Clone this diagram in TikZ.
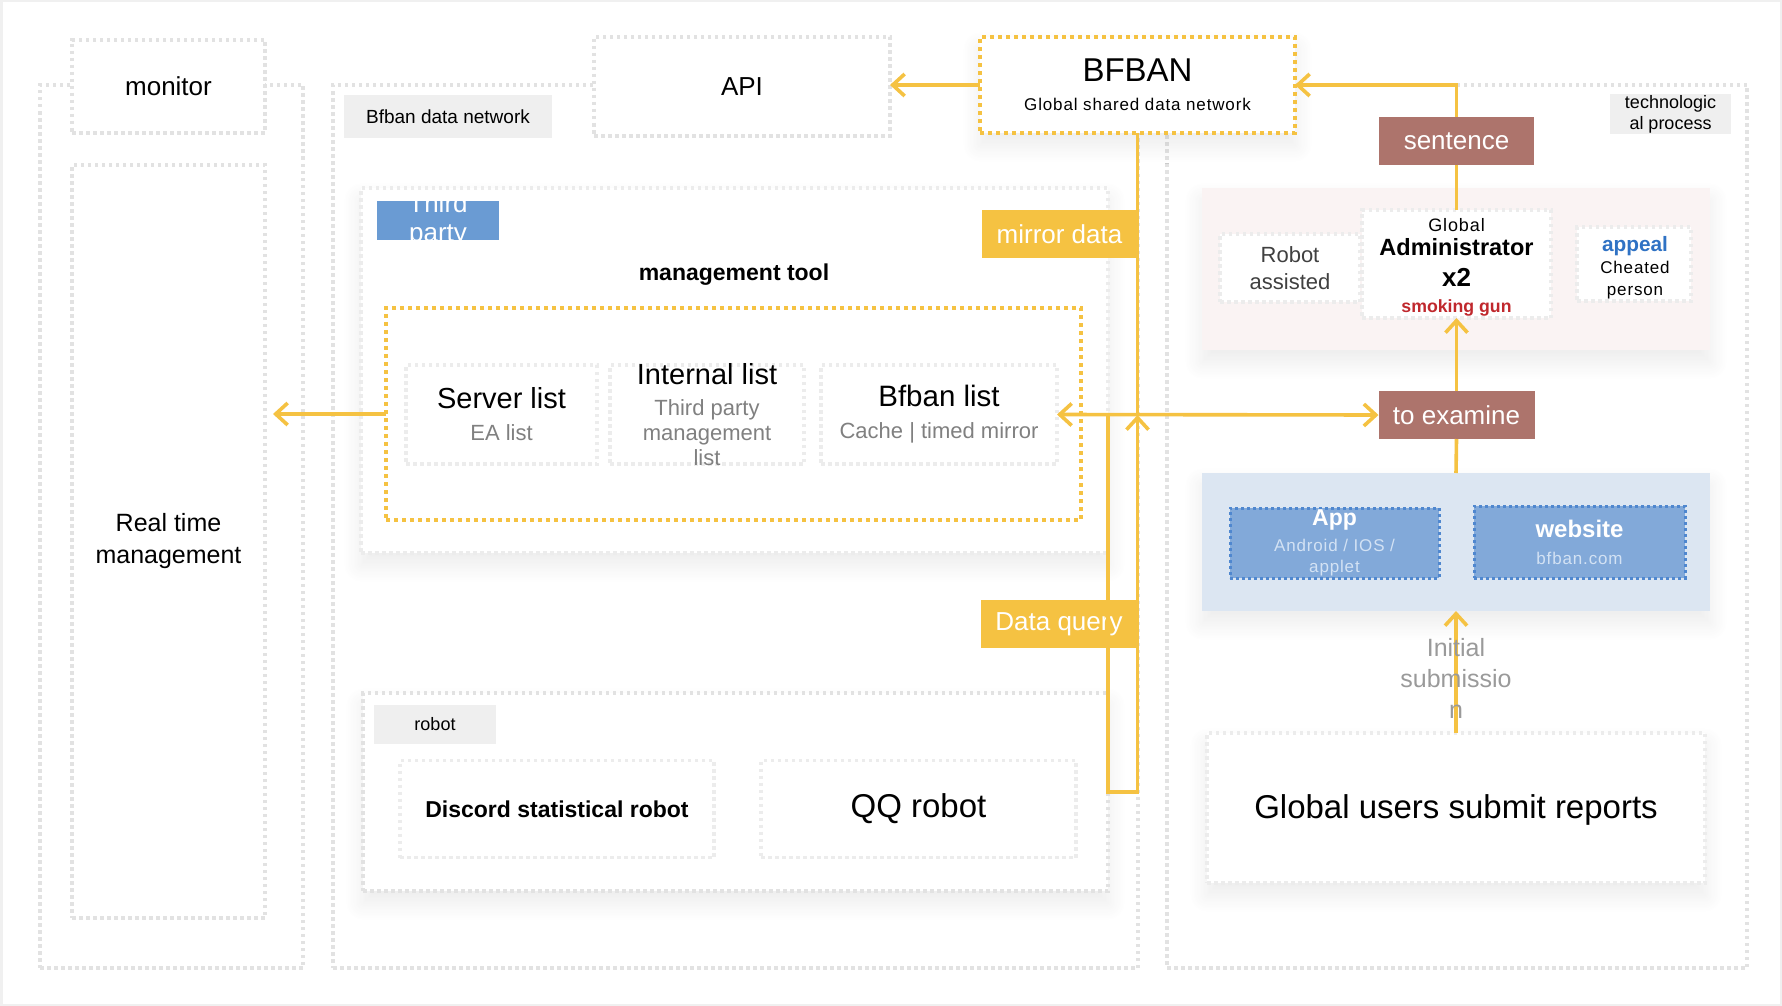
\documentclass[tikz,border=0pt]{standalone}
\usepackage{fontspec}
\setmainfont{Liberation Sans}
\usetikzlibrary{arrows.meta,positioning,shadows.blur}

\definecolor{gold}{HTML}{F5C242}
\definecolor{brick}{HTML}{AD746C}
\definecolor{dotgray}{HTML}{E2E2E2}
\definecolor{faintgray}{HTML}{ECECEC}
\definecolor{tagfill}{HTML}{EFEFEF}
\definecolor{subgray}{HTML}{808080}
\definecolor{paleblue}{HTML}{DCE6F2}
\definecolor{midblue}{HTML}{82A9D9}
\definecolor{edgeblue}{HTML}{4F87CF}
\definecolor{tagblue}{HTML}{6A9BD3}
\definecolor{palepink}{HTML}{FAF3F3}
\definecolor{gunred}{HTML}{C0282D}
\definecolor{appealblue}{HTML}{2F72C4}
\definecolor{lightink}{HTML}{D3E2F4}

\newcommand\fsz[2]{\fontsize{#1pt}{#2pt}\selectfont}
\newcommand\tracked{\addfontfeature{LetterSpace=5}}

\begin{document}
\begin{tikzpicture}[x=1pt,y=-1pt,
  every node/.style={inner sep=0pt,outer sep=0pt,align=center},
  box/.style={draw=dotgray,line width=3.5pt,dash pattern=on 3.5pt off 3.5pt},
  card/.style={box,draw=faintgray,fill=white},
  golden/.style={draw=gold,line width=4pt,dash pattern=on 4pt off 4pt,fill=white},
  tag/.style={fill=tagfill,font=\fsz{19}{22}},
  flag/.style={fill=gold,text=white,font=\fsz{26}{30}},
  verdict/.style={fill=brick,text=white,font=\fsz{26}{30}},
  client/.style={fill=midblue,draw=edgeblue,line width=3pt,dash pattern=on 3pt off 3pt,text=white},
  soft/.style={blur shadow={shadow xshift=0pt,shadow yshift=-12pt,shadow blur radius=18pt,shadow opacity=8,shadow blur steps=16}},
  wire/.style={draw=gold,line width=3.6pt},
  arrowwire/.style={wire,-{Straight Barb[length=12pt,width=22pt]}}]

\useasboundingbox (0,0) rectangle (1782,1006);
\node[draw=black!6,line width=5pt,minimum width=1782pt,minimum height=1006pt] (frame) at (891,503) {};

% three columns
\node[box,minimum width=263pt,minimum height=883pt] (leftcol) at (171.5,526.5) {};
\node[box,minimum width=805pt,minimum height=883pt] (midcol) at (735.5,526.5) {};
\node[box,minimum width=580pt,minimum height=883pt] (rightcol) at (1457,526.5) {};

\node[box,fill=white,minimum width=193pt,minimum height=93pt,font=\fsz{26}{30}] (mon) at (168.5,86.5) {monitor};
\node[box,fill=white,minimum width=193pt,minimum height=753pt,font=\fsz{25}{32}] (rtm) at (168.5,541.5) {Real time\\management};

\node[tag,minimum width=208pt,minimum height=43pt] (nettag) at (448,116.5) {Bfban data network};
\node[tag,minimum width=121pt,minimum height=40pt,font=\fsz{18}{21}] (techtag) at (1670.5,114) {technologic\\al process};

\node[box,fill=white,minimum width=296pt,minimum height=99pt,font=\fsz{26}{30}] (api) at (742,86.5) {API};
\node[golden,soft,minimum width=315pt,minimum height=96pt,font=\fsz{17}{29}] (bfban) at (1137.5,85)
  {{\fsz{33}{29}BFBAN}\\{\tracked Global shared data network}};

% management tool
\node[box,draw=faintgray,soft,fill=white,minimum width=747pt,minimum height=365pt] (mgmt) at (734.5,370.5) {};
\node[fill=tagblue,minimum width=122pt,minimum height=39pt] (thirdtag) at (438,220.5) {};
\node[text=white,font=\fsz{26}{29}] (thirdtxt) at (thirdtag) {Third\\party};
\node[font={\fsz{23}{27}\bfseries}] (mgmttitle) at (734,275) {management tool};
\node[golden,minimum width=695pt,minimum height=212pt] (lists) at (733.5,414) {};

\node[card,minimum width=191pt,minimum height=99pt,font=\fsz{22}{32}] (srv) at (501.5,414.5)
  {{\fsz{29}{32}Server list}\\\textcolor{subgray}{EA list}};
\node[card,minimum width=194pt,minimum height=99pt,right=13pt of srv] (intl) {};
\node[font=\fsz{22}{25}] (intltxt) at (intl) {{\fsz{29}{32}Internal list}\\[6pt]\textcolor{subgray}{Third party}\\\textcolor{subgray}{management}\\\textcolor{subgray}{list}};
\node[card,minimum width=236pt,minimum height=99pt,font=\fsz{22}{32},right=17pt of intl] (bfbl)
  {{\fsz{29.5}{32}Bfban list}\\\textcolor{subgray}{Cache | timed mirror}};

% robots
\node[box,soft,fill=white,minimum width=745pt,minimum height=198pt] (robots) at (735.5,792) {};
\node[tag,minimum width=122pt,minimum height=39pt,font=\fsz{18}{21}] (robottag) at (435,724.5) {robot};
\node[card,minimum width=314pt,minimum height=97pt,font={\fsz{23}{28}\bfseries}] (discord) at (557,809) {Discord statistical robot};
\node[card,minimum width=315pt,minimum height=97pt,font=\fsz{33}{38},right=47pt of discord] (qq) {QQ robot};

% review panel
\node[fill=palepink,soft,minimum width=508pt,minimum height=162pt] (review) at (1456,269) {};
\node[card,minimum width=140pt,minimum height=68pt,font=\fsz{22}{27},text=black!75] (assist) at (1290,268) {Robot\\assisted};
\node[card,minimum width=189pt,minimum height=108pt] (admin) at (1456.5,264) {};
\node[font=\fsz{18}{26}] (admintxt) at (1456.5,267)
  {{\tracked Global}\\[-2pt]{\fsz{23.5}{26}\bfseries Administrator}\\[5pt]{\fsz{26}{26}\bfseries x2}\\{\fsz{17.7}{26}\bfseries\color{gunred}smoking gun}};
\node[card,minimum width=114pt,minimum height=74pt] (appeal) at (1634,264) {};
\node[font=\fsz{17}{22}] (appealtxt) at (1635,268)
  {{\fsz{20.8}{22}\bfseries\color{appealblue}appeal}\\{\tracked Cheated}\\{\tracked person}};

% submission channels
\node[fill=paleblue,soft,minimum width=508pt,minimum height=138pt] (channels) at (1456,542) {};
\node[client,minimum width=209pt,minimum height=70pt] (app) at (1334.5,543) {};
\node[text=white,font=\fsz{17}{21}] (apptxt) at (app) {{\fsz{23}{21}\bfseries App}\\[5pt]\textcolor{lightink}{\tracked Android / IOS /}\\\textcolor{lightink}{\tracked applet}};
\node[client,minimum width=211pt,minimum height=72pt,font=\fsz{17}{27}] (web) at (1579.5,542)
  {{\fsz{24}{27}\bfseries website}\\\textcolor{lightink}{\tracked bfban.com}};

\node[card,soft,minimum width=498pt,minimum height=150pt] (users) at (1456,808) {};
\node[font=\fsz{33}{38}] (userstxt) at (1456,810) {Global users submit reports};

% labels on the lines
\node[verdict,minimum width=155pt,minimum height=48pt] (sentence) at (1456.5,141) {sentence};
\node[verdict,minimum width=156pt,minimum height=48pt] (examine) at (1456.5,415) {to examine};
\node[flag,minimum width=155pt,minimum height=48pt] (mirror) at (1059.5,234) {mirror data};
\node[flag,minimum width=156pt,minimum height=48pt] (query) at (1059,624) {Data query};

% connectors
\draw[arrowwire] (bfban.west) -- (api.east |- bfban.west);
\draw[arrowwire] (sentence.north) |- (bfban.east);
\draw[wire] (admin.north) -- (sentence.south);
\draw[arrowwire] (examine.north) -- (admin.south);
\draw[wire] (channels.north) -- (examine.south);
\draw[arrowwire] (users.north) -- (channels.south);
\draw[wire] (bfban.south) -- (bfban.south |- examine.west);
\draw[wire,{Straight Barb[length=12pt,width=22pt]}-{Straight Barb[length=12pt,width=22pt]}] (bfbl.east) -- (examine.west);
\draw[arrowwire,shorten >=8pt] (lists.west) -- (lists.west -| rtm.east);
\coordinate (qbot) at (1108,792);
\draw[arrowwire] (mgmt.east |- examine.west) -- (mgmt.east |- qbot) -- (bfban.south |- qbot) -- (bfban.south |- examine.west);

\node[text=subgray!80,font=\fsz{25}{31}] (initial) at (1456,678) {Initial\\submissio\\n};
\end{tikzpicture}
\end{document}
